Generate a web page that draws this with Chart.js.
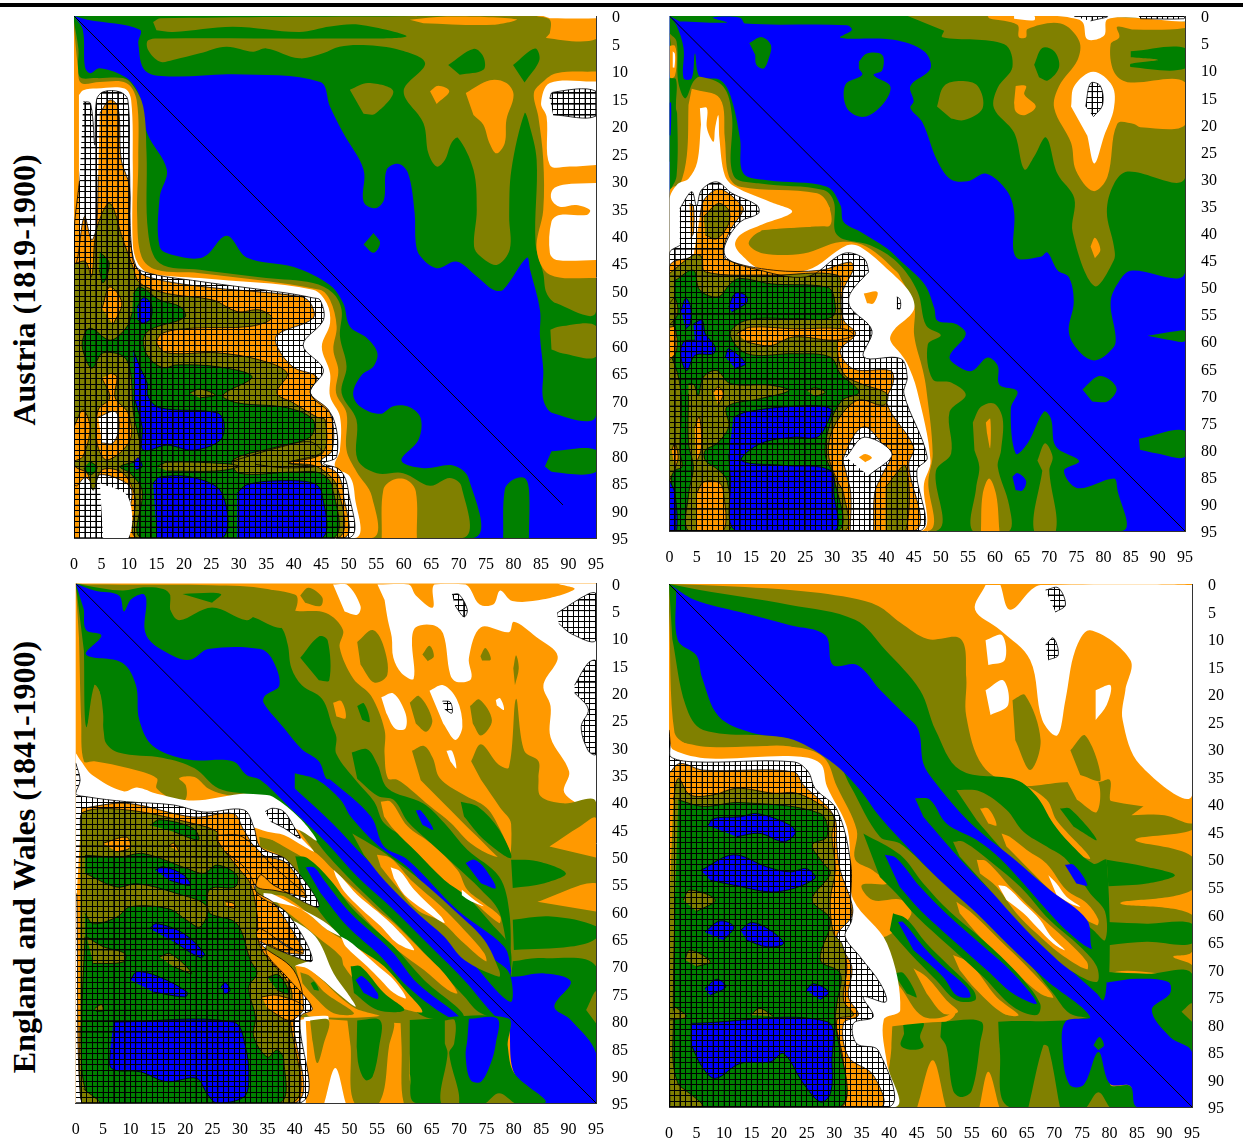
<!DOCTYPE html>
<html>
<head>
<meta charset="utf-8">
<script src="https://cdn.jsdelivr.net/npm/chart.js@4"></script>
<style>
html,body{margin:0;background:#fff;overflow:hidden}
#bar{position:absolute;left:0;top:3px;width:1243px;height:4px;background:#000}
canvas{position:absolute}
.title{position:absolute;font:bold 32px "Liberation Serif";white-space:nowrap;transform:translate(-50%,-50%) rotate(-90deg)}
</style>
</head>
<body>
<div id="bar"></div>
<div class="title" style="left:24px;top:290px">Austria (1819-1900)</div>
<div class="title" style="left:24px;top:857px">England and Wales (1841-1900)</div>
<canvas id="c1"></canvas><canvas id="c2"></canvas><canvas id="c3"></canvas><canvas id="c4"></canvas>
<script>
const AGE_TICKS = [0,5,10,15,20,25,30,35,40,45,50,55,60,65,70,75,80,85,90,95];
const BLUE='#0000ff',GREEN='#008000',OLIVE='#808000',ORANGE='#ff9900',WHITE='#ffffff',HATCH='hatch';

const a1GreenTop = [[0,0],[95,0],[95,72.6],[87.2,72.3],[85.4,69.8],[85.4,64.4],[84.8,58.3],[84.8,53.5],[83,46.2],[82.4,44],[78.1,49.8],[76.3,49.8],[73.3,47.4],[69.6,44.7],[66,45.9],[63,43.7],[62.2,41.3],[62,35.9],[60.8,28.6],[59,26.9],[56.9,28],[56.4,33.5],[54.8,35],[52.7,33.8],[52.7,28],[49,21.3],[46.6,16.5],[44.8,12],[29,10.6],[18,11],[13,10],[11.7,5],[12,2.5],[2.4,0.7]];
const a1GreenLow = [[0,0],[1.6,2.5],[2,9.3],[2.9,10.4],[4.7,9.5],[9.6,11.3],[12,14.7],[13.3,21.3],[16.9,28],[15.6,33],[15.6,42],[18,43.5],[23.5,43.9],[27.8,40],[31.5,44],[40,45.7],[46.6,49],[49,52.3],[50.2,56.5],[53.3,58.6],[55.2,61.3],[54.5,63.8],[52.4,65.3],[50.8,68.6],[52,71],[55.7,72.4],[58.1,71],[61.1,71.2],[63.1,73.2],[62.7,77.1],[59.6,80.9],[63.6,82.3],[69,81.8],[71.8,84.1],[72.7,95],[0,95]];
const a1GreenBlob = [[54.5,39.5],[55.7,41.3],[54.5,43.1],[52.7,41.6]];
const a1GreenBar = [[86.9,79.2],[95,79],[95,83],[87.2,83],[85.7,82]];
const a1GreenBar2 = [[78.1,95],[78.4,86.2],[79.9,84.4],[82,84.1],[82.8,86.2],[82.8,95]];
const a1OliveTop = [[14.4,1.1],[15.7,0.4],[95,0],[95,53.8],[87.8,52.3],[86,50.4],[85.4,46.8],[84,41.3],[84.2,26.2],[82.8,19.5],[82,17.7],[79.6,28],[79.2,36.5],[79.3,42.5],[76.9,45.3],[73.9,43.7],[72.8,41.9],[73.3,35.3],[72.7,28],[69.9,22.2],[68.7,23.1],[67.5,26.2],[66,27.4],[64.5,25],[63.6,19.5],[60,13.7],[63.9,8.6],[59.3,6.2],[52.7,5.3],[48.3,5.6],[45.3,6.8],[41,7.7],[35,5.9],[32.6,6.5],[27.7,5.6],[22.9,6.8],[18,8],[15.6,8.3],[13.5,6.2],[13.5,4.4],[16.8,4.1],[48.3,4.1],[60.5,3.75],[52,1.6],[46.6,1.9],[41,2.9],[28.9,1.95],[18,2.9],[15,2.6]];
const a1GreenP1 = [[68.1,8.9],[72.7,6],[74.5,7.4],[74.5,9.8],[70.2,10.7]];
const a1GreenP2 = [[79.9,8.9],[83.9,5.9],[84.7,8],[82,12.1]];
const a1OliveTri = [[50.2,13.4],[53.6,12.2],[58.1,13.7],[54.8,17.8],[52.7,17.8]];
const a1OrangeO1 = [[64.8,13.7],[66.3,12.7],[68.3,13.7],[66,16]];
const a1OrangeO2 = [[71.3,14],[75.7,11.7],[78.7,12.2],[80,14.4],[78.7,18.9],[78.4,23.1],[76.9,25],[75.6,23.1],[74.5,19.8],[72.7,18]];
const a1OrangeStrip = [[61.1,0.7],[67.8,0.1],[80.5,0.6],[76.3,1.6],[63.6,1.3]];
const a1OrangeCorner = [[84.2,0],[86.6,0.7],[86.6,3.1],[86,4],[95,4.2],[95,0]];
const a1WhiteCorner = [[85.4,0],[95,0],[95,0.4],[86.6,0.4]];
const a1OrangeBlock = [[95,10.1],[87.8,10.4],[85.4,11.9],[83.7,14],[84.5,18.3],[85.4,26.2],[85.4,35.3],[84.2,42.5],[86.6,47.1],[95,47.7]];
const a1WhiteW1 = [[95,11.9],[86.6,12.2],[85,15.9],[86,18.3],[86.6,27.1],[90.2,27.4],[95,27.1]];
const a1WhiteW2 = [[95,30.4],[89,30.7],[87.1,31.6],[86.9,33.4],[88.4,34.7],[91.4,34.4],[93.9,35.3],[93.3,36.2],[88.4,36.2],[86.9,37.4],[86.6,43.1],[87.8,44.4],[95,44.4]];
const a1HatchW1 = [[86.6,15],[87.1,13.9],[95,13.7],[95,18.2],[87.2,18]];
const a1OliveBar = [[86.7,57.1],[88.4,56.5],[95,56.4],[95,62],[89,61.4],[86.9,60.7]];
const a1OliveLow = [[0,1],[0.8,6],[1,11],[4.1,11.3],[8.9,11.3],[10.7,12.6],[12.6,16.5],[13.2,25],[13.5,39.5],[15.6,45],[22.9,46.2],[35,47.7],[43.5,48.6],[47.1,50.4],[48.7,53.5],[48.4,58.3],[49.6,63.8],[48.7,68.6],[51.4,73.5],[51.6,80.7],[55.1,83.2],[59.9,83.2],[64.8,85.5],[68.4,84.1],[70.5,85.6],[70.7,95],[0,95]];
const a1OrangeLow = [[0,2],[0.7,9.2],[1.3,12.2],[4.7,12],[9.5,12.2],[11.4,15.3],[11.7,26.2],[11.5,36.5],[12.3,43.8],[15,46.2],[22.9,46.8],[44.7,49.8],[46.6,51.7],[47.8,56.5],[47.2,60.7],[48.1,64.4],[47.7,68.6],[49.6,72.3],[49.6,79],[51.4,82.9],[54.2,87.4],[54.2,95],[0,95]];
const a1OrangeCol = [[56,95],[56.3,86.2],[58.1,84.4],[60.5,84.4],[62.2,86.5],[62.4,95]];
const a1WhiteLow = [[0.9,14.4],[1.7,13.5],[4.1,13.2],[9.2,13.2],[10.4,15.3],[10.7,27.4],[10.7,41.3],[11.6,45],[13.8,46.8],[22.9,47.7],[43.5,49.8],[46,52.3],[46.6,55.9],[45.1,60.2],[46.6,65],[46.6,69.2],[48.4,72.9],[48.4,79],[47.5,82],[50.2,83.8],[51.1,87.4],[51.1,95],[0.9,95]];
const a1Hatch = [[1.7,15.6],[3,15.9],[3.8,23.5],[4.1,15.3],[5.3,13.8],[8.3,13.8],[9.8,15.3],[10.1,27.4],[10.7,44.4],[12.6,46.5],[22.9,48.3],[38.6,50.4],[43.5,51.3],[44.8,51.7],[45.4,55.3],[41.7,59.9],[45.4,64.4],[43,68.6],[47.1,73],[47.8,80.2],[45.4,81.4],[48.4,82.6],[49.9,86.3],[49.9,95],[0,95],[0,40],[1,30]];
const a1WhiteHole = [[4.7,85],[9.8,87.5],[9.9,95],[5.3,95]];
const a1OrangeMain = [[4.7,17.7],[6.5,15.3],[8,16.5],[8.6,26.2],[10.1,31],[10.1,39.5],[11.3,45.6],[13.2,47.4],[22.9,49.2],[41,51],[43,52.2],[43.5,55],[37,58],[37,60.2],[39.9,63.9],[44.2,65.7],[43,68.6],[46.6,72.2],[47,79],[44.8,81.2],[47.9,83.2],[49,86.8],[49,95],[10.3,95],[10.5,86.3],[8.4,84.4],[4.7,83.5],[3.8,85],[3.4,85],[2,84],[0.5,85.5],[0,85],[0,47],[0.7,43.8],[1.9,36.5],[3.2,40.7],[4.1,38.3],[4.4,29.2]];
const a1OliveMain = [[0.2,45],[2.1,44.7],[3.2,47.4],[4.1,38.9],[6.5,34.1],[8.9,40.7],[10.7,45.6],[12,48.6],[16.9,50.5],[25.3,51.7],[29.7,53.8],[33.8,53.5],[36,55],[32,56.5],[21.7,56.8],[16.2,57.7],[15.1,59.5],[16.9,61.3],[26,61.3],[33.8,62.6],[38.8,65],[36.9,68.6],[39.9,70.4],[44.2,73],[45.7,73.5],[45.3,79.5],[39.3,81.3],[44.2,82],[47.9,85.7],[47.9,95],[11.6,95],[11.1,87.5],[8.9,83.2],[5.1,82.6],[3.5,86.3],[2.4,83.2],[0.2,82],[0,80]];
const a1OrangeP1 = [[5.1,53.2],[6.5,49.3],[8.7,52.2],[7.1,56.2]];
const a1OrangeP2 = [[6.9,65],[7.8,65.7],[7.5,69.5],[9.8,72.2],[10.2,77.2],[6,80.8],[4.2,77.7],[4.4,71.7],[6.5,69.5],[5.1,65.9]];
const a1WhiteP2 = [[4.4,73],[7.5,72],[8.2,74.8],[7.1,77.7],[5.1,77.7]];
const a1OrangeP3 = [[0,74.8],[1.6,71.7],[2.9,74.8],[1.6,80.2],[0,81]];
const a1GreenSpot = [[4.7,42.9],[6.4,45],[5.3,48.6],[4.6,46.2]];
const a1GreenMain = [[10.8,50.5],[12,49.3],[15.6,51.7],[19.3,52.9],[20.2,54.8],[13.8,57.1],[12.6,59],[13.5,62],[16.2,64],[18.7,63.5],[26.6,63.9],[32.4,65.7],[27.1,69],[29.7,70.4],[38.8,71.3],[43.5,73.5],[43,76.6],[37,78.4],[28.9,80.8],[30,83.2],[39.9,83],[44.8,83.2],[47,85.7],[47,95],[12.4,95],[12.4,86.3],[10.2,83.2],[8.4,82],[12,80.4],[10.8,72.2],[9.6,62.6],[5.3,61.3],[3.3,64.1],[2,62],[1.5,59.3],[2.9,56.8],[6.6,59],[9.6,56.6],[10.6,54]];
const a1OliveS1 = [[15.1,82],[17,81.2],[28,81.5],[30,82],[26,82.8],[17,82.8]];
const a1OliveS2 = [[28.9,81],[37,78.6],[43,77.5],[45,79.5],[39,81.3],[43.8,82],[38,82.2],[33,81.6]];
const a1OliveSpot = [[21.1,68.6],[22.9,67.9],[25.7,69],[22.9,69.5]];
const a1GreenSpot2 = [[2.9,81],[4.2,82.2],[3,83.5],[1.8,82.3]];
const a1BlueB1 = [[11.5,53],[12.6,51.3],[14,52.3],[14,55],[12.6,55.9],[11.6,55.3]];
const a1BlueB2 = [[10.8,60.8],[12,63.9],[13.3,66.8],[13.5,69.3],[15.6,71.3],[26,72.2],[27.3,74],[26.6,77.2],[21.7,79],[16.9,78.1],[12.6,79],[12.4,74.8],[11.1,69.9]];
const a1BlueB3 = [[10.8,81.3],[11.7,80.4],[12.4,82],[11.3,82.6]];
const a1BlueB4 = [[14.4,85],[15.6,83.9],[21.7,84],[26.9,86.8],[27,95],[15.1,95]];
const a1BlueB5 = [[29.7,86.8],[31.5,85.3],[36.9,84.6],[43.5,85],[45.1,86.8],[45.1,95],[29.7,95]];

// Austria, right panel
const a2Green = [[0,0],[95,0],[95,47.3],[85,47],[82.9,48.9],[81.3,52.7],[82.2,59],[81.9,61],[78.6,63.5],[75.8,62.2],[73.6,58.4],[74.5,52.7],[73.6,48.2],[71.5,46.9],[69.6,43.6],[68.4,44.4],[63.8,44.4],[63.5,36.1],[62.2,32.3],[58.4,29.1],[54.9,30.5],[51.8,30.1],[49.3,26.6],[46.6,19.6],[44.4,17],[45,15.7],[44.4,12.9],[48.1,9.7],[46.9,6.5],[41.3,4.4],[31.5,4],[33.6,2.6],[32.7,1.7],[14,1.4],[13,0.3],[8,0.3],[10.6,1.2],[1.9,1]];
const a2GreenB1 = [[14.7,5],[17,3.9],[18.7,5.4],[18.2,8.1],[17.3,9.7],[16,9],[15.8,7.2]];
const a2GreenB2 = [[34.9,8.4],[36.4,6.9],[39.2,7.2],[39.2,10],[37.6,10.9],[40.7,13],[39.2,16.4],[35.8,18.6],[32.7,17],[32.4,12.7],[35.5,10.9],[34.9,9.7]];
const a2GreenB3 = [[76.1,68.9],[78.9,66.5],[81,67],[82.4,68.9],[80.7,71.1],[77.9,71.1]];
const a2GreenBar = [[86.5,78],[95,76.5],[95,81.3],[89.9,80.7],[86.7,80]];
const a2GreenSliver = [[88.1,59],[93.6,58.1],[95,58.1],[95,60],[91.8,59.7]];
const a2GreenLow = [[0,0],[1.3,1.7],[2.6,6],[2.6,11.5],[4.1,11.5],[4.7,6.9],[5.6,11.2],[9.3,11.8],[11.2,14.6],[13,22.6],[13.6,29],[18,30.3],[29,31.5],[31.5,34.9],[32.1,38],[35.2,39.8],[40.1,42.9],[42.7,45.3],[47,49.5],[48.8,53.9],[49.4,56.2],[52.8,56.8],[54.6,58.7],[51.6,62.9],[54,65.1],[55.9,65.4],[58.6,63],[60.5,64.5],[60.8,68],[64.1,69.2],[62.9,72.4],[63.8,80.7],[66,78.8],[69,73],[70.3,74.3],[71.2,79.4],[75.5,82.1],[72.7,83.9],[75.2,87.1],[81.9,85.3],[82.5,87.1],[83.3,95],[0,95]];
const a2BlueSpot = [[63.2,85],[64.1,84.3],[65.7,85.7],[65.1,87.5],[63.8,87.5]];
const a2OliveTop = [[43.9,0],[95,0],[95,29.9],[84.4,28.7],[81.9,31],[80.6,36.1],[81.9,42.5],[81.9,45],[78.3,49.8],[74.3,39.9],[74.6,33.6],[71.5,29.1],[69.4,22.4],[67.2,25.9],[65.4,28.3],[63.5,21.5],[59.8,17],[60.5,13.2],[63.2,9.4],[61.7,5.2],[50.3,3.9],[50.6,2.7]];
const a2GreenHole = [[67.2,9],[68.7,5.9],[70.9,6.5],[71.8,9.4],[69.7,11.9],[68.1,11.3]];
const a2OliveIsland = [[49.3,16.7],[50.6,12.9],[53.7,12],[56.8,12.9],[57.7,17],[54.3,19.2],[51.9,18.9]];
const a2GreenStrips = [[85,6.5],[95,5.9],[95,9.7],[85,9.4],[85,8.8],[90,8.1],[85,7.6]];
const a2OrangeTop = [[48.2,0],[58.6,0],[58.9,0.4],[64.1,1.6],[64.4,3.9],[65.7,3.9],[66,2.4],[72.1,1.4],[75.5,4.6],[75.2,8.1],[71.8,12.9],[70.9,17],[74,23.4],[74.9,28.5],[78.1,32.3],[80.7,29.7],[82.5,19.9],[85.6,19.9],[86.8,20.5],[95,20.1],[95,12.2],[84.4,12.2],[81.9,10.3],[81.3,5.2],[82.9,3.9],[82.5,2],[85.6,2.5],[95,2.2],[95,1.1],[86.8,0.4],[71.5,0]];
const a2OrangeO1 = [[63.8,12.9],[65.7,12.9],[65.4,14.5],[67.5,16.7],[65.4,18.3],[63.8,17.6],[63.5,16]];
const a2WhiteTop1 = [[63.5,0],[67.2,0],[67.2,0.8],[63.5,0.5]];
const a2WhiteTop2 = [[71.5,0],[95,0],[95,1],[86.8,0.4],[80.7,0.6],[80.1,3.6],[77,4.3],[76.1,1.1],[73.3,0.2]];
const a2WhiteBig = [[74,16.7],[74.6,12.9],[78.1,10.3],[81.6,12.9],[81.9,17],[80.1,22.1],[78.3,27.2],[77,22.1]];
const a2HatchSmall = [[76.7,16.7],[77.6,12.4],[79.4,12.9],[79.8,16.4],[78.1,18.6]];
const a2HatchTop1 = [[74.6,0.1],[80.7,0.1],[77.6,0.9]];
const a2HatchTop2 = [[86.5,0],[94.8,0],[94.8,0.5],[86.8,0.5]];
const a2OrangeDiamond = [[77.6,42.5],[78.4,40.9],[79.4,43.1],[78.4,44.7]];
const a2OliveLow = [[0,3.2],[1.3,4.7],[1.6,12.1],[2.9,15.2],[4.4,12.1],[5.6,11.2],[9.9,13],[11.5,18.3],[11.8,29.4],[16.7,30.9],[28.4,32.1],[30.3,34.3],[30.9,40.4],[37,42.3],[41.9,45.4],[45.7,50.8],[47.3,57.1],[50,58.9],[47.6,60.6],[48.5,67],[51.9,67.6],[54.6,69.9],[51.6,73.1],[51.9,80.7],[49.1,83.9],[49.1,95],[0,95],[0,33],[1.3,29.5],[1.4,18],[1,16.5],[0.5,12],[0.2,5]];
const a2OrangeLeft = [[0,5.5],[1,5.5],[1.3,8],[1,11],[0.2,11.5],[0,10]];
const a2WhiteLeft = [[0.6,6.5],[1,7],[0.9,9.5],[0.6,9.5]];
const a2GreenLeft = [[0,11.5],[1.2,11.7],[1.2,16],[0.8,25],[0,27]];
const a2BlueLeft = [[0,16],[0.3,16],[0.2,22],[0,22]];
const a2OrangeLow = [[4.1,13.4],[9.3,15.2],[10.2,22.6],[10.9,29.4],[13,31.5],[27.2,32.7],[29.3,34.9],[29.6,38.6],[25.9,38.9],[16.7,39.8],[14.6,42],[17.3,43.8],[24.7,43.8],[31.5,41.7],[36.4,42.6],[41.9,47.2],[42.7,48.5],[45.1,53.3],[45.1,59],[46.7,65.4],[47.3,68.6],[48.5,80.7],[47.7,85.8],[47.6,95],[0,95],[0,32.4],[0.7,31.5],[1.9,31.2],[3.2,25.7],[3.5,16.4]];
const a2OliveTongue = [[17,39.5],[26,38.9],[29.6,39],[30.5,40.7],[24.7,43.5],[17.3,43.5],[14.6,42]];
const a2WhiteLow = [[5.6,17],[6.9,17],[6.9,20.7],[8.1,23.2],[8.4,20.7],[9,18.3],[9.2,22.6],[10.2,29.4],[12.1,31.5],[18.6,34.3],[22.6,36.1],[16.7,38.6],[13,40.4],[12.1,42.3],[13.6,44.4],[16.7,46.6],[25.3,46.9],[32.7,42.3],[35.2,42.6],[40.7,47.2],[44.4,51.2],[45,54.3],[41.3,58],[40.7,59.8],[42.6,62.3],[43.8,64.1],[45.6,69],[48.1,82],[46.9,86.3],[46.3,95],[0,95],[0,34],[1.5,31],[3.5,30],[5.1,27],[5.8,20]];
const a2OrangeDiam = [[27.5,35.6],[28.6,34.6],[29.6,35.6],[28.6,36.4]];
const a2Hatch = [[1.9,35.5],[4.1,32.4],[5,35],[5.9,32.1],[8.7,30.6],[11.5,32.7],[16.1,34.9],[16.4,36.4],[13,38],[10.2,42.3],[10.6,44.7],[15.5,46.6],[25.3,48.1],[32.1,43.8],[35.8,44.7],[36.7,47.2],[36.4,47.5],[33.3,51.2],[33.3,53.7],[37.3,58],[35.8,62.9],[42.6,63.2],[43.8,66.6],[43.2,69.7],[47.5,81.4],[45.6,83.8],[46,95],[0,95],[0,43.8],[1.9,42.3]];
const a2OrangeMain = [[5.6,37],[6.3,34],[8.4,32.1],[9.9,32.1],[13,34.6],[13.6,35.8],[11.2,39.5],[9.9,43.2],[10.6,45],[19.2,46.9],[27.8,46.9],[33.3,45.4],[33.9,46.6],[31.8,51.2],[32.1,56.1],[34.3,58.6],[31.5,61.7],[33.9,65.1],[40.7,65.4],[41.3,67.2],[40.1,71.5],[45,79.5],[44.1,82.6],[45,95],[0,95],[0,46.3],[4.4,44.4]];
const a2WhiteHatched = [[33.3,95],[33.4,88],[32.5,84],[32.1,81.4],[35.7,75.8],[39.8,79.5],[41,80.8],[39,85],[37.8,88],[37.6,95]];
const a2OliveBlob = [[6.3,37],[9,34.6],[10.9,35.8],[10.9,38.3],[8.7,41.1],[6.6,40.4]];
const a2OrangeSpire = [[3.7,34.6],[4.4,35],[4.4,40],[3.9,41]];
const a2OliveMain = [[0,47.5],[4.4,44.1],[5.9,44.4],[6.6,47.2],[18.6,47.8],[30.9,47.8],[31.5,51.2],[31.5,58],[30.9,61],[32.1,66],[35.2,67.8],[40.1,69.7],[39.5,71.8],[34.6,70.9],[30.3,75.8],[29.3,80.8],[30.9,85.7],[32.1,88.1],[32.1,95],[0,95]];
const a2OliveCol = [[39.8,86.9],[43.5,83],[43.5,95],[39.8,95]];
const a2OrangeBand = [[12.4,58.6],[14.9,57.4],[22.9,57.7],[32.1,57.7],[33.9,58.9],[30.3,59.8],[22.9,59.2],[18.6,60.8],[14.3,60.2]];
const a2GreenMain = [[1,48.8],[4.4,46.9],[5.6,50.6],[9,51.8],[11.2,49.4],[13,48.4],[18.6,49.4],[29,50],[30.3,51.8],[30,55.5],[22.9,55.8],[14.3,56.1],[11.2,58.6],[14.3,62.3],[22.9,62.3],[29.6,62.9],[31.5,66],[34.9,69.4],[31.8,70.9],[29.6,75.2],[28.7,80.8],[30.3,85.1],[30.9,95],[0.7,95],[0.7,55]];
const a2OliveLeft = [[0,62],[1.5,66],[2.2,71],[1.9,80.1],[2.3,83.2],[1,83.8],[0,85.7]];
const a2OliveTail = [[3.5,67.8],[4.5,68],[5.3,70],[6.25,66.6],[8.7,65.4],[11.2,67.8],[18.6,68.1],[22,69.1],[16.7,70.6],[10.6,72.1],[10.9,75.8],[8.7,78.9],[6.6,80.1],[6.6,82],[8.7,83.5],[10.6,85.7],[10.9,95],[3.5,95],[3.5,88.3],[4.4,83.2],[3.5,78.9],[3.5,69.7]];
const a2OliveSide = [[0,53],[1,52],[1.5,55],[0,57]];
const a2OliveSpot = [[25.3,69.1],[26.9,68.6],[28.7,69.4],[26.9,70.2]];
const a2OrangeS1 = [[8.1,69.4],[9,68.4],[9.9,69.7],[9,71.8]];
const a2OrangeS2 = [[4.65,75.8],[5.5,74],[5.9,79.5],[4.9,82.6]];
const a2OrangeS3 = [[0.4,80.1],[1,78.9],[1.6,81.4],[1,83.5]];
const a2OrangeS4 = [[5,88.1],[6.25,86],[9,86],[9.9,87.5],[9.9,95],[5,95]];
const a2OrangeS5 = [[0,57.4],[1,57.4],[1.3,61.7],[0,63.5]];
const a2BlueB1 = [[2.1,54.3],[3,52.1],[3.9,53.7],[3.8,56.8],[3,57.7]];
const a2BlueB2 = [[4.4,56.8],[6,56.1],[6.6,58.6],[8.4,61],[8.1,62.3],[4.7,62.6],[3.2,65.4],[2.1,62.9],[2.6,60.1],[4.7,59.8]];
const a2BlueB3 = [[10.9,53.7],[12.1,51.2],[14,51.5],[14.3,52.8],[11.5,54.6]];
const a2BlueB4 = [[10.3,62.9],[10.9,61.4],[14,64.1],[12.1,65]];
const a2BlueB5 = [[11.8,74],[14.3,73],[22.9,72],[29.6,72.4],[29,75.2],[27.2,77.7],[22.9,77.7],[16.7,78.9],[13.3,82],[21,82.9],[29.6,83.8],[30.3,88.1],[30.3,95],[12.3,95],[11.2,85],[10.9,80.8]];
const a2BlueB6 = [[0,85.7],[1,88.1],[1.3,95],[0,95]];
const a2WhiteDiamond = [[32.5,81.4],[35.9,77.7],[41,80.8],[36.7,84.8]];
const a2OrangeCore = [[34.9,81.4],[36.1,80.8],[37.3,81.5],[36.1,82.3]];
const a2OrangeGap = [[35.8,51.2],[38.3,50.9],[37.6,53],[36.4,53]];
const a2HatchTiny = [[41.9,51.8],[42.5,52.3],[42.5,54],[41.9,54]];
const a2OliveTower = [[55.9,75],[57.4,72.1],[59.8,71.5],[61.4,74.3],[61.1,80.1],[60.5,83.2],[62.6,90.3],[62.6,95],[55.9,95],[56.5,87.1],[57.1,83.2],[56.2,80.1]];
const a2OrangeT1 = [[58.3,75],[59.1,74.3],[59.1,79.7],[58.5,76.9]];
const a2OrangeT2 = [[57.4,95],[57.7,88.3],[58.9,85.3],[60.2,88.3],[60.8,95]];
const a2OliveSpike = [[67.8,82],[69.2,78.8],[70.6,81.3],[70,83.9],[71.2,95],[67.2,95],[68.7,83.9]];

// England and Wales, left panel
const e1WhiteBig = [[55.1,0.2],[60.8,0.2],[62.1,2.2],[65.2,4.4],[65.5,0.2],[71.2,0.2],[73.7,3.8],[76.3,3.8],[77.5,1.3],[79.7,3.2],[85.4,2.9],[91.1,1],[88,0],[95,0],[95,42],[93.6,41.3],[89.2,38.2],[90.1,34.4],[86.7,28.1],[86.7,22.4],[85.4,18.6],[88,13.3],[84.1,9.8],[80,7],[79.1,8.9],[74,8],[71.8,13.6],[72.2,17.4],[69.6,18],[68.4,16.7],[67.1,9.2],[65.2,7.6],[62.1,8],[61.4,10.4],[61.7,17.4],[59.5,16.4],[58,13.6],[57.7,9.8],[57,6.7],[56.4,3]];
const e1WhiteS1 = [[47,0.2],[49.5,0.2],[52,4.1],[51.4,5.7],[49.1,5.1]];
const e1WhiteS2 = [[55.8,20.8],[58,20.1],[60.2,23.7],[60.2,26.5],[58.3,26.5],[56.7,23.7]];
const e1WhiteS3 = [[64.6,19.6],[67.1,18.6],[69.6,21.2],[70.6,26.2],[69.3,28.6],[67.1,25.6]];
const e1WhiteS4 = [[67.7,30.6],[68.7,30.6],[69.5,33.8],[68.4,32.5]];
const e1WhiteS5 = [[76.7,21.3],[77.5,21],[78.2,23.1],[76.9,22.3]];
const e1OliveA = [[0,0],[3.4,0.2],[24.9,0.3],[35,1],[38.7,2.9],[39.4,4.8],[45.7,5.4],[48.8,8.5],[48.2,11.7],[50.7,17.4],[53.9,20.5],[56.4,26.8],[56.4,31.2],[57,35.6],[58.7,35.9],[61.2,37.7],[64.8,40.8],[68.5,43.8],[72.1,47.5],[76.4,49.9],[79.5,50.5],[79.5,79.3],[63,79.3],[58,72],[50,62],[47,55],[43.5,49],[41,45.5],[38.6,42],[33.7,40],[31.9,39.5],[26.8,38.5],[24.2,37.5],[21.7,35.4],[18.9,35.6],[20.1,36.9],[20.1,39.4],[18.6,39.8],[14.8,37.5],[14.8,35.6],[9.7,33.8],[3.4,32.5],[1.5,32.5],[1,25],[0.6,10]];
const e1OliveA2 = [[33.5,46.3],[38,47.5],[43,50],[50,58],[60,70],[70,79.3],[41,79.3],[43.2,77.7],[38.6,72],[35,68],[35,66.1],[38.6,67.7],[43.2,68.9],[38.6,60.3],[33.1,56.7],[33.7,53.3],[36.2,55.2],[44.4,59.1],[38.6,50.6],[33.7,48.2]];
const e1OliveO1 = [[41,2.2],[42.5,0.8],[45,2.5],[44.7,4.1],[41.9,3.5]];
const e1OliveO2 = [[51.4,10.7],[54.2,8.5],[56.1,11.1],[56.9,16.7],[54.5,18.1],[52,14.8]];
const e1OliveO3 = [[63.3,13],[64.6,11.4],[65.4,13.3],[64.3,14.2]];
const e1OliveO4 = [[73.9,13.3],[74.8,11.8],[75.8,13.9],[74.2,14.1]];
const e1OliveO5 = [[79.9,15.5],[80.4,13.1],[80.9,15.5],[80.2,18.6]];
const e1OliveO6 = [[61,21.8],[62.7,20.6],[65.1,24.9],[64,27.1],[62.1,25.6]];
const e1OliveO7 = [[72,22.4],[73.7,21.2],[76,25],[74,27.8],[72.5,25.6]];
const e1GreenO2 = [[41,13.6],[44.4,9.7],[46,10.4],[46.3,17.7],[44.4,17.7]];
const e1GreenO3 = [[51.4,22.4],[52.6,21.9],[53.7,25.3],[52.3,24.9]];
const e1OrangeO8 = [[47,21.8],[48.5,21.5],[49.3,24.6],[47.6,24.3]];
const e1OliveT1 = [[61.4,30.6],[63.6,29.7],[65.2,31.9],[66.5,35.6],[70.6,38.5],[75,41],[77.5,45],[79.5,50],[79.5,52],[73,46],[68,41],[63,36]];
const e1OliveR = [[72.2,32.5],[74,29.4],[77.2,33.1],[79.1,33.6],[80.4,21.1],[81.9,30.6],[84.5,32.5],[84.5,35.6],[84.9,38.9],[89,40.2],[95,40],[95,71],[79.5,71],[79.5,44],[77.5,41],[74,35.9]];
const e1OrangeW1 = [[86.5,48.1],[92,44.5],[95,42.9],[95,50.1]];
const e1OrangeW2 = [[84.3,58.2],[95,54.8],[95,60]];
const e1GreenBar1 = [[79.5,50.5],[84.3,50.8],[89.5,53],[85.6,54.8],[79.8,55.7]];
const e1GreenBar2 = [[79.8,61.5],[86.8,60.9],[95,62.7],[95,64.9],[90.4,66.4],[80,67]];
const e1GreenBar3 = [[79.8,69.1],[84.9,68.5],[95,70],[95,85.9],[79.5,79.8],[79.5,71.9]];
const e1OliveRs = [[93.2,78],[95,74.6],[95,80.4]];
const e1GreenIsland = [[70.3,39.9],[73.4,40.8],[77.3,45],[79.5,50.2],[74.6,46.9],[70.9,42.6]];
const e1GreenA = [[0,0],[1.5,0.3],[8.5,1.3],[12.3,0.7],[16,1],[17.3,2.2],[17.3,4.8],[18.9,6.7],[24.9,4.4],[31.2,6.7],[33.7,5.4],[37.5,8],[38.7,11.1],[39.4,15.5],[41.3,18.6],[45,21.1],[46.9,26.2],[47.6,28.1],[47.6,31.2],[51.4,36.3],[54.5,39.9],[56.3,43.8],[60.6,46.9],[64.8,51.1],[70.9,56.6],[75.8,62.1],[79.2,66.4],[79.5,71.9],[79.4,79.5],[74,78.6],[70.9,75.5],[65.4,69.4],[58.7,62.4],[51.4,55.4],[45.9,49.6],[42.9,45.7],[39.8,42.3],[37.5,41.3],[32.4,38.8],[26.1,37.5],[21.7,33.8],[16,31.9],[7.8,30.9],[5.3,28.7],[5,23.7],[4.4,19.9],[3.4,18.6],[3.4,19.9],[1.9,26.2],[1.5,12.3]];
const e1OliveInner = [[17.3,2.2],[19,1.3],[40,2],[38,8],[32,6],[25,4],[19,6.5],[17.3,4.8]];
const e1GreenStrip = [[19.5,1.9],[26.5,1.9],[24.9,3.5]];
const e1GreenBand2 = [[50.4,30.9],[53.2,30.3],[55.1,33.1],[57,37.5],[63.4,40.2],[67.3,43.8],[71.5,48.7],[77.3,53.6],[79.2,60.3],[79.2,68.8],[77.3,60],[74,56],[69.1,51.4],[64.2,46.9],[60.6,43.5],[58.1,39.6],[55.1,38.8],[51.4,35.7]];
const e1OliveFinger = [[2,27],[3.4,18.6],[4.4,19.9],[5,26],[5,30],[2.5,30]];
const e1BlueS1 = [[62.1,41.5],[63,41.5],[65.3,45],[63.3,44.1]];
const e1BlueS2 = [[71.2,51.1],[72.8,50.5],[74.6,52],[76.7,55.7],[74,54.8]];
const e1OrangeS1 = [[55.7,39.9],[57.5,39.9],[60.6,44.4],[64.8,47.5],[69.7,52.4],[71.5,56],[74.6,58.5],[77.5,60.9],[77.3,62.1],[71.5,57.2],[67.3,54.2],[62.4,49.3],[58.1,45],[56.3,42.6]];
const e1WhiteSliver = [[70.5,56],[73,58],[74.5,59],[72,58],[70.5,57]];
const e1Blue = [[0,0],[3.4,1.3],[7.9,2.2],[8.8,5.1],[10.1,2.9],[12.3,1.9],[12.9,2.9],[12.9,9.5],[17.9,13.3],[21.1,13.9],[24.2,12],[33.7,12],[35.9,13.9],[37.2,18.6],[34.6,20.5],[34.3,21.8],[38.1,26.5],[41.3,30.3],[44.4,32.5],[45.7,35.6],[46.5,35.9],[53.9,42.6],[56.3,48.1],[60.6,50.5],[69.7,59.7],[78.2,66.4],[79.5,70.7],[79.5,71.9],[85.6,71.3],[90.4,72.8],[87.4,77.4],[90.4,79.8],[95,85.9],[95,95],[85.6,95],[80.1,89.6],[78.9,79.8],[77.3,79.8],[70.9,72.5],[64.8,66.4],[58.1,59.7],[51.4,53.6],[45.9,47.5],[38.6,40.5],[33.7,35.9],[31.2,35],[28.7,32.5],[20.5,32.2],[14.1,29.7],[11.6,24.9],[11,18.6],[8.5,14.5],[1.9,13],[4.7,9.5],[1.9,8.5],[1.5,4.8]];
const e1GreenMid = [[40,34.7],[44.1,35.9],[48.4,39.6],[50.2,42.6],[55.1,47.8],[61.2,52.4],[66,58.5],[70.9,62.7],[75.8,68.2],[79.2,71.3],[79.3,76.5],[70.9,67.6],[65.4,62.1],[58.7,55.4],[52.9,50.2],[46.8,43.8],[40,37.5]];
const e1OliveMid = [[50.5,45.7],[55.1,48.4],[58.1,50.5],[63.6,54.8],[69.7,60.3],[74.6,65.2],[77.3,70.7],[77.3,71.9],[70.9,68.8],[67.3,64.6],[62.4,60.3],[56.3,54.2],[52.6,49.6]];
const e1OrangeMid = [[55,49.6],[57.5,50.2],[61.2,54.2],[66.7,59],[70.9,63.3],[74.6,67.6],[74.9,69.1],[70.9,65.8],[66.7,61.8],[62.4,59.7],[58.1,54.8],[55.7,51.8]];
const e1WhiteMid = [[57.5,51.9],[59.3,52.7],[61.8,56],[66.7,60.9],[67.3,62.1],[63.6,59.7],[60,56.9],[58.1,53.9]];
const e1OrangeL1 = [[34.3,45],[37.4,46],[43.5,49],[47.1,52.4],[51.4,56.3],[55.1,59.7],[58.1,62.1],[63.6,67.6],[67.3,71.3],[69.7,74.9],[67.9,74.3],[63.6,70.7],[58.7,67],[54.5,63],[51.4,59.7],[45.9,54.2],[42.9,51.1],[38,48.1],[35.3,46.6]];
const e1WhiteL1 = [[47.1,52.4],[48.7,53.9],[51.4,56.9],[55.1,60],[58.7,63.3],[61.8,67],[58.7,65.8],[55.7,62.7],[52,59.4],[49,56.3],[47.5,53.6]];
const e1WhiteCap = [[31.9,40.8],[33.7,40.5],[35.6,41.1],[38.6,42.6],[41,46.3],[43.5,49],[41.7,48.1],[38,46],[35,45.4],[31.9,44.4]];
const e1HatchCap = [[34.6,41.7],[35.9,41.1],[38,41.7],[39.8,44.4],[41,46.6],[38,44.7],[35.6,43.5]];
const e1GreenL2 = [[40.1,49.9],[42.3,50.2],[46.5,54.2],[50.8,59.7],[58.1,66.4],[63.6,72.5],[70.9,79.2],[63.6,79.2],[58.7,74.3],[53.2,68.8],[48.4,64.6],[43.5,58.5],[41,53.6]];
const e1BlueR1 = [[42,51.9],[43.5,51.9],[45.3,54.2],[50.2,60.3],[57.5,67],[62.4,73.1],[70,79.2],[67.9,79.2],[60.6,73.7],[55.7,68.2],[49.6,62.7],[44.7,56.6]];
const e1OrangeL2 = [[35.9,56.9],[38,57.2],[41.7,59.7],[45.9,63.3],[52,67],[56.3,70],[60.6,74.9],[63.3,78.3],[60.6,78],[55.1,76.1],[52,73.7],[49,70],[48.4,68.2],[44.1,64.6],[40.4,61.5],[37.4,59.1]];
const e1WhiteL2 = [[34.3,56.6],[36.2,56.9],[42.3,60.3],[45.9,63.3],[49.6,65.2],[53.2,68.2],[55.7,70.4],[58.1,72.5],[60.3,75.8],[58.1,74.9],[55.7,72.5],[53.2,70],[49.3,66.4],[48.4,64.6],[46.5,62.7],[43.8,60.9],[40.1,59.1],[37.4,58.5],[34.3,57.8]];
const e1WhiteL3 = [[37,60.8],[40.4,62],[44.1,65],[47.1,71.3],[49.6,74.9],[51.1,77.4],[47.8,74.9],[44.7,72.2],[42.3,70.7],[40.1,70],[43,68.5],[38.6,62.5]];
const e1OrangeL3 = [[40.1,69.9],[42.3,70.4],[45,72.5],[48.1,75.5],[51.1,77.7],[55.4,79.1],[42.9,79.2],[41.7,78],[41.4,74.9]];
const e1OliveBlob = [[41,71.1],[42.9,71.9],[45.6,74.9],[50.8,78.6],[47.1,78.6],[43.5,75.5],[41.4,73.1]];
const e1GreenBlob = [[42.9,73.1],[43.5,72.8],[44.4,74.4],[43.5,74.3]];
const e1WhiteNotch = [[41.7,79.3],[46,79.1],[46,80],[41.7,80]];
const e1GreenL3 = [[50.2,70],[52,70],[56.3,74.9],[60,78],[55.1,78],[50.8,74.9]];
const e1BlueR2 = [[51.1,72.5],[52.3,71.8],[55.1,74.9],[55.1,76],[52.6,74.9]];
const e1WhiteStrip = [[41,79.8],[42,79.8],[42,95],[41,95]];
const e1OliveV1 = [[42.8,79.9],[46.2,79.9],[45.3,84.1],[44.1,87.7],[43.2,83.5]];
const e1WhiteV = [[45.4,95],[47.4,88.6],[49.3,95]];
const e1OliveV2 = [[49.6,79.8],[57.8,79.8],[57.2,84.7],[55.4,95],[50.9,95],[50.2,84.7]];
const e1GreenV = [[51.4,79.9],[55.6,79.9],[55.4,84.7],[54.2,90.2],[52.9,90.8],[51.7,88.3],[51.3,84.7]];
const e1OliveV3 = [[59.3,79.8],[61,79.8],[61,90.8],[62.1,95],[59.9,95],[59.5,84.7]];
const e1GreenBig = [[61,79.8],[78.9,79.5],[78.9,84.7],[80.1,89.6],[85.6,95],[62.1,95],[61,89.6]];
const e1OliveV4 = [[67.4,79.9],[69.2,79.9],[69.1,84.1],[68.2,85.9],[70,95],[66.7,95],[67.9,85.9],[67.4,84.1]];
const e1BlueV = [[71.8,79.6],[77,79.6],[76.7,84.1],[75.8,87.7],[74,91.1],[72.1,90.8],[71.2,86.5],[71.5,83.5]];
const e1OliveV5 = [[74.9,95],[77.3,93.2],[80.1,95]];
const e1HatchR1 = [[87.9,5.4],[93.6,1.9],[95,1.9],[95,10.4],[90.5,9.2],[88.2,7.3]];
const e1HatchR2 = [[91.1,18.6],[93.6,14.5],[95,14.2],[95,31.2],[93.6,30.6],[92.3,26.2],[93.6,23],[91.1,20]];
const e1HatchR3 = [[68.7,2],[70,2],[71.5,4.8],[70.9,6.1],[69.3,4.1]];
const e1HatchR4 = [[67,21.5],[68.4,21.7],[68.7,23.7],[67.4,23]];
const e1WhiteBand = [[0,31],[1,32.5],[3,35],[8.7,38],[11.2,37.3],[15,38.5],[21.5,39.7],[30,38.5],[33.7,38.6],[36,39],[41,43],[44,47],[40.5,45],[35,44.5],[30,44],[0,42]];
const e1Hatch = [[0,32.8],[0.8,36],[0,38.4],[2,39],[9.3,39.9],[17.9,40.5],[23.4,41.8],[30.7,41.4],[32.5,44.5],[33.7,48.2],[38.6,50.6],[44.4,59.1],[36.2,55.2],[33.7,53.3],[33.1,56.7],[38.6,60.3],[43.2,68.9],[38.6,67.7],[35,66.1],[35,68],[38.6,72],[43.2,77.7],[41,79.3],[41,95],[0,95]];
const e1OrangeMain = [[1.1,41.1],[9.3,40.2],[21.5,42.7],[28.8,42.1],[30.7,45.1],[33.7,49.4],[38.6,51.2],[42,57.3],[37,54],[33.1,53],[32.8,56.1],[36.2,58.5],[41.6,67],[41.3,67.7],[35,64.3],[33.7,65.8],[39.8,70.7],[41.6,77.4],[39.8,79.3],[40.1,95],[1.1,95],[0.2,56.7]];
const e1OliveMain = [[0.8,45.1],[1.4,41.8],[9.3,41.4],[21.5,43.9],[25.8,45.4],[25.8,46.9],[30,52.4],[31.9,54.9],[33.1,60.3],[33.7,66.4],[39.2,73.8],[39.2,79.3],[39.5,95],[1.7,95],[0.8,92],[0.8,81]];
const e1OrangeB1 = [[25.8,46],[30.4,46.3],[36.2,51.8],[42.2,57.3],[39.2,56.7],[36.2,56.1],[33.1,55.5],[31.3,52.4],[27,48.8]];
const e1OrangeB2 = [[5,47.5],[9.3,46.4],[9.9,48.3],[7.5,49.1]];
const e1OrangeB3 = [[17,48],[17.9,47.5],[18.8,48.9]];
const e1OrangeB4 = [[4.3,57.2],[8.4,58.2],[7.5,59],[5.1,58.5]];
const e1OrangeB5 = [[16.1,57.9],[19.4,58.8],[19.7,59.9],[16.6,59]];
const e1OrangeB6 = [[27.3,58.2],[28.8,58.5],[29.1,59.4],[27.6,59]];
const e1OrangeB7 = [[32.8,64],[33.7,63.1],[38.6,66.4],[41.6,67.7],[38,67.4],[33.7,65.5]];
const e1OrangeB8 = [[34,75.6],[36.8,75.3],[41.6,77.4],[39.2,79.9],[35,77.7]];
const e1GreenMain = [[1.7,49.7],[8.1,50],[12.4,49.4],[20.3,52.1],[23.4,53],[25.8,51.5],[29.4,53.3],[29.1,55.5],[24.6,55.8],[24,59],[24.6,60.4],[29.4,62.2],[31.9,68.9],[33.1,71.3],[31.6,73.8],[32.8,79.3],[32.5,82.9],[35,86.6],[36.8,85.3],[38,87.2],[37.1,95],[4.8,95],[1.7,92.4],[1.1,81],[1.7,64.6]];
const e1OliveL1 = [[1.7,53],[7.5,55.5],[11.2,54.9],[18.5,56.7],[24,59.1],[22.7,62.8],[20.3,61.6],[17,59.5],[10,59.1],[7.5,61],[3.2,62.2],[1.7,60.3]];
const e1OliveL2 = [[2,64.6],[5,66.4],[9,67.7],[8.7,69.2],[3.2,69.5]];
const e1OliveL3 = [[15.3,68.3],[17.3,67.7],[21.2,71.3],[17.9,70.1]];
const e1OliveL4 = [[3.5,77.7],[4.7,77],[5,78.1],[3.7,78.2]];
const e1GreenHole = [[35,72],[37.1,71.6],[38.9,75],[36.8,74.4]];
const e1GreenTopSpot = [[13.6,44.2],[15.4,43.2],[21.5,44.8],[22.4,46.9],[17.9,45.4]];
const e1BlueB1 = [[14.5,52.4],[16,51.8],[19.7,53.3],[20.9,55.2],[17.2,54.3]];
const e1BlueB2 = [[13.5,63.1],[14.8,62.2],[19.7,64],[23.5,67.7],[22.7,68.4],[17.9,65.5]];
const e1BlueB3 = [[10,72.5],[11.2,71],[15.4,72],[20.3,74.7],[20,75.6],[14.2,74.7]];
const e1BlueB4 = [[26.5,73.8],[27.3,73],[28.2,74.4],[27.3,75.1]];
const e1BlueB5 = [[6.9,80.2],[28.8,80.2],[31,84.7],[31.6,90.8],[30.7,93.9],[25.8,95],[24,93.3],[22.1,90.5],[16.6,91.1],[11.8,89.3],[6.6,88.7],[6.3,85.3]];
const e1OliveCorner = [[1.4,92.4],[4.4,95],[1.1,95]];

// England and Wales, right panel
const e2Olive = [[0,0],[5.6,0.2],[22,1.1],[33,2.5],[38,4],[42,7],[47,10],[53,10],[54,17],[54,24],[57,33],[63,36.5],[72,36],[78,36],[80.1,35.6],[80.1,39.2],[80.7,39.5],[95,42.3],[95,44.7],[84.7,46.5],[95,49.5],[95,55.6],[82,58],[95,60.1],[95,66.8],[91.6,67.7],[95,69.2],[95,71],[79.5,71],[79.5,79.5],[38.5,79.5],[38.5,70],[36,62],[34,55],[33,46],[30,38],[27,33],[22,29.5],[8,30],[1,27],[0,5]];
const e2RibbonA = [[63.1,35.6],[68.6,39.2],[70.4,42.9],[76.5,49.8],[71.6,47.7],[68,43.5],[64.4,38.6]];
const e2RibbonB = [[72.2,35.6],[77.7,35.6],[77.7,41.4],[74.1,39.2]];
const e2GreenIsland = [[71,40.8],[72.8,40.8],[77.7,46.5],[73.5,44.1]];
const e2WhiteMain = [[60.2,0.2],[62,4.7],[67.5,0.2],[95,0.2],[95,38.4],[85.6,32.9],[82.4,24.7],[82.9,19.3],[83.8,13.8],[76.5,8.4],[73.8,12],[72,21.1],[70.5,27.5],[67.8,24.7],[65.6,13.8],[60.2,8.4],[55.6,4.7],[57.5,0.2]];
const e2OrangeHole = [[84,42],[90,42],[95,43.5],[95,41],[88,39]];
const e2WhiteB1 = [[57.5,19.3],[60.7,17.5],[61.6,22],[58.4,23.8]];
const e2WhiteB2 = [[77.5,19.3],[80.2,18.4],[79.5,22],[77.5,24.7]];
const e2WhiteB3 = [[57.5,10.2],[60.5,9.3],[61,13.8],[58,14.7]];
const e2OliveS1 = [[62.4,21.1],[64.7,20.2],[67.5,28.4],[65.6,33.8],[62.9,28.4]];
const e2OliveS2 = [[72.9,30.2],[75.6,27.5],[78.4,35.6],[74.7,34.7]];
const e2GreenU = [[0,0],[5.6,1.1],[22,3.8],[33.8,6.5],[39.3,12],[45.6,19.3],[48.4,26.5],[52.9,33.8],[63.1,35.6],[66.8,38.6],[69.8,43.5],[72.8,47.1],[77.1,50.8],[79.5,50.2],[79.5,79.5],[77.1,78.9],[72.8,78],[69.8,74.4],[64.4,67.7],[59.5,62.9],[53.5,57.4],[47.4,52],[41.9,47.1],[38.3,45.9],[33,36.8],[29.9,31.4],[22.6,28],[6.2,26.5],[3,22],[0.6,10]];
const e2OliveStripe = [[52.2,37.4],[56.5,37.7],[61.3,41],[64.4,45],[68.6,47.7],[72.2,50.1],[76.5,56.2],[79.2,59.5],[79.2,64.7],[77.1,62.9],[74.7,61],[68.6,56.2],[63.8,52],[59.5,47.1],[55.9,42.9]];
const e2OrangeSpot = [[56.5,40.8],[58,40.8],[59.5,43.8],[58,43.5]];
const e2OrangeS4 = [[60.4,45.3],[61.9,45.9],[65,48.3],[68.6,50.8],[72.2,55.6],[75.9,58],[78,61],[77.7,62],[72.8,58.9],[69.2,55.6],[64.4,50.8],[61.3,47.7]];
const e2WhiteS = [[68.9,52.9],[70.4,54.4],[72.2,56.8],[74.7,58.6],[72.8,58],[70.4,56.5]];
const e2BlueSpot = [[71.9,51],[73.5,51],[76,54.7],[74,54.4]];
const e2BarA = [[79.5,50.1],[86.8,51.4],[91.9,52.9],[86.8,54.4],[79.8,54.9]];
const e2BarB = [[79.6,61.4],[86.8,61.7],[95,61.7],[95,65.3],[86.8,65],[79.8,65.6]];
const e2BarC = [[79.5,70.5],[86.8,70.8],[95,70.8],[95,85],[79.5,85]];
const e2OliveSideR = [[93.1,77.7],[95,76.2],[95,79.5]];
const e2OliveV = [[40.6,79.5],[59.8,79.5],[60,84.1],[61.8,95],[40.7,95],[40.4,83.5]];
const e2PeakA = [[45.1,95],[47.9,86.5],[50.3,95]];
const e2PeakB = [[56.4,95],[58,88.6],[60,95]];
const e2GreenV1 = [[42.5,79.7],[46.2,79.7],[45.6,82.3],[46.2,84.1],[43.8,84.6],[42.1,83.8],[42.7,81.7]];
const e2GreenV2 = [[49.5,79.5],[56.7,79.5],[56.5,83.5],[55,92],[53.1,93.2],[51.6,92],[50.4,84.1],[49.3,82.3]];
const e2GreenV3 = [[59.8,79.5],[76.5,78.6],[79.5,75],[80.1,90.8],[83.8,91.2],[85,95],[61.8,95],[60,84.1]];
const e2PeakC = [[65.3,95],[68,83.8],[68.9,84.1],[71,95]];
const e2PeakD = [[75.9,95],[78,92.3],[80,95]];
const e2Blue = [[0,0],[4.7,2.9],[12.9,5.1],[22,7.5],[28.4,9.3],[29.8,14.7],[34.2,14.7],[38.4,19.3],[42.9,23.8],[45.3,26.5],[46.2,32.6],[48,35.6],[52.8,41.4],[56.5,45],[62.5,49.8],[69.2,55.6],[75.9,61],[76.8,66.2],[79.5,72.3],[80.1,72.3],[85,71.7],[90.7,72.3],[91,74.4],[87.7,77.4],[91,82.3],[95,85],[95,95],[85,95],[83.8,91.2],[80.1,90.8],[78,85],[75.3,91],[72.8,91],[71.5,85.3],[72,79.5],[76.5,78.6],[68.6,72],[62,65.9],[55.9,59.8],[49.2,53.8],[43.8,48.3],[38.3,42.3],[34.7,37.4],[29.9,32.6],[22.6,28.3],[15,27],[9,24],[6,17],[5,13],[1.6,10.2],[1.3,1.1]];
const e2GreenSpotB = [[77.1,83.8],[78.2,82.3],[79,83.8],[78,84.7]];
const e2GreenMid = [[44.7,38.9],[47.4,39.2],[50.4,43.5],[55.9,46.5],[60.1,49.8],[64.4,54.4],[68.6,59.2],[72.8,63.5],[76.5,66.2],[79.5,66.5],[79.5,72.3],[78.9,75.6],[77.7,74.4],[72.2,69.5],[66.2,64.1],[60.7,58],[55.3,52.6],[49.8,46.5],[46.2,42.3]];
const e2OliveMid = [[51.6,46.8],[53.5,46.8],[58.9,50.8],[63.8,55],[69.2,61.1],[74.7,65.9],[77.7,69.5],[77.7,72.3],[72.8,70.1],[68.6,66.5],[63.8,61.7],[58.3,55.6],[52.8,49.5]];
const e2OrangeMid = [[55.9,50.1],[57.7,50.4],[62.5,55.6],[67.4,60.4],[72.2,64.7],[75.9,68.6],[75.9,70],[71,67.1],[66.8,63.5],[63.1,59.8],[59.5,55],[56.5,52.6]];
const e2WhiteMid = [[59.8,54.7],[61.3,55],[64.4,58],[67.4,61],[69.2,63.8],[71.9,66.5],[69.8,65.3],[66.8,62.3],[64.4,59.8],[61.3,57.4]];
const e2OrangeWedge = [[1,28.5],[7.4,29.6],[22.6,29.6],[28.1,31.5],[30.5,36.8],[34.1,44.7],[33.8,50],[37,52],[39.6,54.4],[35,54.7],[37,57.4],[42.3,57.4],[44,60],[39.5,64],[34.1,64.7],[37.8,67.7],[42,70],[47,73],[50,76],[52,78],[50,79.5],[0,79.5],[0,30]];
const e2OliveSouth = [[37.8,67.7],[40.2,67.7],[45,70.7],[49.3,75],[51.1,78],[46.2,78.6],[42,73.2]];
const e2GreenSouth = [[40.8,70.7],[42.6,70.7],[45,75],[43.2,74.4]];
const e2OrangeS5 = [[44.4,69.8],[46.8,71.4],[50.4,75.6],[52.5,77.7],[49.8,78],[46.8,74.4]];
const e2OrangeS6 = [[51.6,67.4],[54.7,68.9],[59.5,75],[63.5,78.3],[60.7,78],[55.9,73.8],[52.8,70.1]];
const e2OrangeS7 = [[52.2,57.7],[54.7,59.5],[60.1,64.7],[65,69.5],[69.8,75],[67.4,74.4],[61.9,69.5],[56.5,64.1],[52.8,59.8]];
const e2GreenR1 = [[35.3,45.3],[42,49.2],[46.2,54.4],[51,59.5],[57.1,64.7],[63.1,70.5],[67.4,76.2],[66.8,78.3],[62.5,76.8],[57.1,71.4],[51,65.9],[45,60.4],[41.3,56.2],[38.3,53.2]];
const e2BlueR1 = [[39.2,49.2],[41.3,49.8],[45.6,55],[50.4,59.9],[56.5,65.3],[62.5,70.7],[66.8,76.2],[62.5,74.4],[57.7,70.1],[51.6,64.7],[45.6,59.2],[41.9,55]];
const e2GreenR2 = [[40.7,59.8],[43.1,60.8],[46.8,65.3],[50.4,68.9],[55.3,73.8],[55.6,75.6],[52.2,75.6],[48.6,72],[43.8,67.1],[40.1,62.9]];
const e2BlueR2 = [[41.6,61.4],[42.5,61.4],[46.2,65.9],[49.8,69.5],[54,73.2],[54.7,75],[52.2,74.7],[49.8,71.4],[44.4,66.5]];
const e2White = [[0,28],[0.8,30.1],[7.4,31.7],[22.6,31.3],[27.5,32.6],[28.7,36.8],[32.3,44.1],[33,51.3],[33.5,57.4],[39.6,65.3],[42,77.4],[39,79.2],[39.6,87.1],[41.1,95],[0,95]];
const e2Hatch = [[0,26.5],[0.2,28.9],[0.2,31.3],[4.4,32.3],[22.6,32.3],[25.3,34.1],[26.5,37.1],[30.5,41],[33,50.7],[33,58],[33.2,61],[32,64],[34.7,67.7],[38.4,72.6],[39.4,75.9],[35.3,75],[37.1,78.6],[33.5,79.8],[34.1,83.5],[38,84.7],[39.9,95],[0,95]];
const e2OrangeMain = [[0,34.4],[2,32.6],[6.2,33.8],[22.6,34.1],[24.4,36.5],[29.9,42],[30.5,47.7],[31.1,52],[33.2,58],[33.2,60.4],[30.5,64.1],[33.2,69.5],[32.6,75],[34.4,78.3],[31.7,79.8],[32.6,85.9],[37.1,89.2],[38.4,95],[0,95]];
const e2OliveMain = [[0.8,39.2],[1.7,35.3],[3.8,38.3],[8.1,38.3],[12.3,37.1],[19,38],[23.2,38],[28,40.4],[29.9,42.3],[29.6,45.9],[30.2,52],[29.3,57.4],[29.9,63.5],[31.4,65.3],[32.3,69.5],[31.7,75.6],[33.5,78.3],[30.5,79.2],[31.7,87.1],[31.1,95],[0.2,95],[0,60]];
const e2GreenMain = [[1.7,39.2],[6.2,40.4],[12.9,39.7],[27.5,41.7],[28.7,45.9],[26,47.4],[28,50.7],[29.3,52.6],[26,57.4],[29.3,61],[27.5,68.3],[31.1,70.7],[30.5,76.2],[30.2,79.2],[31.1,95],[6.2,95],[1.4,90.1],[0.8,79.2],[1.1,56.8]];
const e2OliveLobeA = [[2.6,57.4],[3.8,55.6],[8.4,57.4],[5,59.5]];
const e2OliveLobeB = [[2.9,68.3],[3.8,66.5],[7.5,68.6],[5,69.5]];
const e2OliveLobeC = [[14.8,78.3],[16.5,77.1],[18.9,78.5]];
const e2OliveLobeD = [[1.1,76.8],[3.2,78.6],[0.2,79.2]];
const e2BlueB1 = [[7.1,43.8],[8.1,42.6],[12.9,42.3],[16,41.7],[22,43.8],[22.9,45.3],[20.8,46.8],[16.5,45.3],[12.3,45.9]];
const e2BlueB2 = [[5.8,52],[11.7,49.2],[17.8,51.4],[22,52.3],[25,51.7],[26.5,53.5],[19.6,55.9],[11.7,54.7],[7.5,53.8]];
const e2BlueB3 = [[6.5,63.2],[9.3,61.2],[11.8,62.3],[9.9,64.7]];
const e2BlueB4 = [[13,62.9],[15,61.5],[18.4,62.9],[20.8,65.3],[17.8,65.9],[14.1,64.7]];
const e2BlueB5 = [[6.5,73.5],[8.7,71.8],[10.3,73.2],[7.5,74.7]];
const e2BlueB6 = [[24.9,73.8],[26.2,72.6],[29,74.1],[27.5,75.5]];
const e2BlueB7 = [[4.1,79.8],[28.7,79.5],[29.6,87.1],[29.3,92.6],[27.5,94.1],[24.4,90.7],[20.8,85.3],[18.4,86.8],[12.9,87.1],[8.4,89.8],[6,87.7],[4.1,83.8]];
const e2OliveCorner = [[1.4,90.7],[6.2,95],[0.2,95]];
const e2HatchA = [[68.4,1.1],[70.7,0.7],[72,3.8],[70.2,5.1]];
const e2HatchB = [[68.4,11.1],[69.8,9.8],[70.7,12.9],[68.9,13.8]];

const panels = [{
  id:'c1', left:74, top:16, size:522, diagonal:89, base:BLUE,
  layers:[
    [GREEN,a1GreenTop],[GREEN,a1GreenLow],[GREEN,a1GreenBlob],[GREEN,a1GreenBar],[GREEN,a1GreenBar2],
    [OLIVE,a1OliveTop],[GREEN,a1GreenP1],[GREEN,a1GreenP2],[OLIVE,a1OliveTri],[ORANGE,a1OrangeO1],[ORANGE,a1OrangeO2],
    [ORANGE,a1OrangeStrip],[ORANGE,a1OrangeCorner],[WHITE,a1WhiteCorner],[ORANGE,a1OrangeBlock],[WHITE,a1WhiteW1],[WHITE,a1WhiteW2],[OLIVE,a1OliveBar],
    [OLIVE,a1OliveLow],[ORANGE,a1OrangeLow],[ORANGE,a1OrangeCol],[WHITE,a1WhiteLow],
    [ORANGE,a1OrangeMain,1],[OLIVE,a1OliveMain,1],[ORANGE,a1OrangeP1,1],[ORANGE,a1OrangeP2,1],[WHITE,a1WhiteP2,1],[ORANGE,a1OrangeP3,1],[GREEN,a1GreenSpot,1],
    [GREEN,a1GreenMain,1],[OLIVE,a1OliveS1,1],[OLIVE,a1OliveS2,1],[OLIVE,a1OliveSpot,1],[GREEN,a1GreenSpot2,1],
    [BLUE,a1BlueB1,1],[BLUE,a1BlueB2,1],[BLUE,a1BlueB3,1],[BLUE,a1BlueB4,1],[BLUE,a1BlueB5,1],
    [HATCH,a1Hatch],[WHITE,a1WhiteHole],[HATCH,a1HatchW1]
  ]
},{
  id:'c2', left:669.5, top:16, size:514.6, diagonal:95, base:BLUE,
  layers:[
    [GREEN,a2Green],[GREEN,a2GreenB1],[GREEN,a2GreenB2],[GREEN,a2GreenB3],[GREEN,a2GreenBar],[GREEN,a2GreenSliver],[GREEN,a2GreenLow],[BLUE,a2BlueSpot],
    [OLIVE,a2OliveTop],[GREEN,a2GreenHole],[OLIVE,a2OliveIsland],[GREEN,a2GreenStrips],[ORANGE,a2OrangeTop],[ORANGE,a2OrangeO1],
    [WHITE,a2WhiteTop1],[WHITE,a2WhiteTop2],[WHITE,a2WhiteBig],[ORANGE,a2OrangeDiamond],
    [OLIVE,a2OliveTower],[ORANGE,a2OrangeT1],[ORANGE,a2OrangeT2],[OLIVE,a2OliveSpike],
    [OLIVE,a2OliveLow],[ORANGE,a2OrangeLeft],[WHITE,a2WhiteLeft],[GREEN,a2GreenLeft],[BLUE,a2BlueLeft],
    [ORANGE,a2OrangeLow],[OLIVE,a2OliveTongue],[WHITE,a2WhiteLow],[ORANGE,a2OrangeDiam],[ORANGE,a2OrangeGap],
    [ORANGE,a2OrangeMain,1],[WHITE,a2WhiteHatched,1],[OLIVE,a2OliveBlob,1],[ORANGE,a2OrangeSpire,1],[OLIVE,a2OliveMain,1],[OLIVE,a2OliveCol,1],[ORANGE,a2OrangeBand,1],
    [GREEN,a2GreenMain,1],[OLIVE,a2OliveLeft,1],[OLIVE,a2OliveTail,1],[OLIVE,a2OliveSide,1],[OLIVE,a2OliveSpot,1],
    [ORANGE,a2OrangeS1,1],[ORANGE,a2OrangeS2,1],[ORANGE,a2OrangeS3,1],[ORANGE,a2OrangeS4,1],[ORANGE,a2OrangeS5,1],
    [BLUE,a2BlueB1,1],[BLUE,a2BlueB2,1],[BLUE,a2BlueB3,1],[BLUE,a2BlueB4,1],[BLUE,a2BlueB5,1],[BLUE,a2BlueB6,1],
    [HATCH,a2Hatch],[WHITE,a2WhiteDiamond,1],[ORANGE,a2OrangeCore],[HATCH,a2HatchSmall],[HATCH,a2HatchTop1],[HATCH,a2HatchTop2],[HATCH,a2HatchTiny]
  ]
},{
  id:'c3', left:75.7, top:583.5, size:519.5, diagonal:95, base:ORANGE,
  layers:[
    [WHITE,e1WhiteBig],[WHITE,e1WhiteS1],[WHITE,e1WhiteS2],[WHITE,e1WhiteS3],[WHITE,e1WhiteS4],[WHITE,e1WhiteS5],
    [OLIVE,e1OliveA],[OLIVE,e1OliveA2],[OLIVE,e1OliveO1],[OLIVE,e1OliveO2],[OLIVE,e1OliveO3],[OLIVE,e1OliveO4],[OLIVE,e1OliveO5],[OLIVE,e1OliveO6],[OLIVE,e1OliveO7],
    [GREEN,e1GreenO2],[GREEN,e1GreenO3],[ORANGE,e1OrangeO8],[OLIVE,e1OliveT1],[OLIVE,e1OliveR],[ORANGE,e1OrangeW1],[ORANGE,e1OrangeW2],
    [GREEN,e1GreenBar1],[GREEN,e1GreenBar2],[GREEN,e1GreenBar3],[OLIVE,e1OliveRs],[GREEN,e1GreenIsland],
    [GREEN,e1GreenA],[OLIVE,e1OliveInner],[GREEN,e1GreenStrip],[OLIVE,e1OliveFinger],[GREEN,e1GreenBand2],[BLUE,e1BlueS1],[BLUE,e1BlueS2],[ORANGE,e1OrangeS1],[WHITE,e1WhiteSliver],
    [BLUE,e1Blue],[GREEN,e1GreenMid],[OLIVE,e1OliveMid],[ORANGE,e1OrangeMid],[WHITE,e1WhiteMid],
    [ORANGE,e1OrangeL1],[WHITE,e1WhiteL1],[WHITE,e1WhiteCap],[GREEN,e1GreenL2],[BLUE,e1BlueR1],
    [ORANGE,e1OrangeL2],[WHITE,e1WhiteL2],[WHITE,e1WhiteL3],[ORANGE,e1OrangeL3],[OLIVE,e1OliveBlob],[GREEN,e1GreenBlob],[WHITE,e1WhiteNotch],[GREEN,e1GreenL3],[BLUE,e1BlueR2],
    [WHITE,e1WhiteStrip],[OLIVE,e1OliveV1],[WHITE,e1WhiteV],[OLIVE,e1OliveV2],[GREEN,e1GreenV],[OLIVE,e1OliveV3],[GREEN,e1GreenBig],[OLIVE,e1OliveV4],[BLUE,e1BlueV],[OLIVE,e1OliveV5],
    [WHITE,e1WhiteBand],[WHITE,e1Hatch],[ORANGE,e1OrangeMain,1],[OLIVE,e1OliveMain,1],
    [ORANGE,e1OrangeB1,1],[ORANGE,e1OrangeB2,1],[ORANGE,e1OrangeB3,1],[ORANGE,e1OrangeB4,1],[ORANGE,e1OrangeB5,1],[ORANGE,e1OrangeB6,1],[ORANGE,e1OrangeB7,1],[ORANGE,e1OrangeB8,1],
    [GREEN,e1GreenMain,1],[OLIVE,e1OliveL1,1],[OLIVE,e1OliveL2,1],[OLIVE,e1OliveL3,1],[OLIVE,e1OliveL4,1],[GREEN,e1GreenHole,1],[GREEN,e1GreenTopSpot,1],
    [BLUE,e1BlueB1,1],[BLUE,e1BlueB2,1],[BLUE,e1BlueB3,1],[BLUE,e1BlueB4,1],[BLUE,e1BlueB5,1],[OLIVE,e1OliveCorner,1],
    [HATCH,e1Hatch],[HATCH,e1HatchCap],[HATCH,e1HatchR1],[HATCH,e1HatchR2],[HATCH,e1HatchR3],[HATCH,e1HatchR4]
  ]
},{
  id:'c4', left:669, top:584, size:522.8, diagonal:95, base:ORANGE,
  layers:[
    [OLIVE,e2Olive],[ORANGE,e2RibbonA],[ORANGE,e2RibbonB],[GREEN,e2GreenIsland],
    [WHITE,e2WhiteMain],[ORANGE,e2OrangeHole],[WHITE,e2WhiteB1],[WHITE,e2WhiteB2],[WHITE,e2WhiteB3],[OLIVE,e2OliveS1],[OLIVE,e2OliveS2],
    [GREEN,e2GreenU],[OLIVE,e2OliveStripe],[ORANGE,e2OrangeSpot],[ORANGE,e2OrangeS4],[WHITE,e2WhiteS],[BLUE,e2BlueSpot],
    [GREEN,e2BarA],[GREEN,e2BarB],[GREEN,e2BarC],[OLIVE,e2OliveSideR],
    [OLIVE,e2OliveV],[ORANGE,e2PeakA],[ORANGE,e2PeakB],[GREEN,e2GreenV1],[GREEN,e2GreenV2],[GREEN,e2GreenV3],[OLIVE,e2PeakC],[OLIVE,e2PeakD],
    [BLUE,e2Blue],[GREEN,e2GreenSpotB],[GREEN,e2GreenMid],[OLIVE,e2OliveMid],[ORANGE,e2OrangeMid],[WHITE,e2WhiteMid],
    [ORANGE,e2OrangeWedge],[OLIVE,e2OliveSouth],[GREEN,e2GreenSouth],[ORANGE,e2OrangeS5],[ORANGE,e2OrangeS6],[ORANGE,e2OrangeS7],
    [GREEN,e2GreenR1],[BLUE,e2BlueR1],[GREEN,e2GreenR2],[BLUE,e2BlueR2],
    [WHITE,e2White],[ORANGE,e2OrangeMain,1],[OLIVE,e2OliveMain,1],[GREEN,e2GreenMain,1],
    [OLIVE,e2OliveLobeA,1],[OLIVE,e2OliveLobeB,1],[OLIVE,e2OliveLobeC,1],[OLIVE,e2OliveLobeD,1],
    [BLUE,e2BlueB1,1],[BLUE,e2BlueB2,1],[BLUE,e2BlueB3,1],[BLUE,e2BlueB4,1],[BLUE,e2BlueB5,1],[BLUE,e2BlueB6,1],[BLUE,e2BlueB7,1],[OLIVE,e2OliveCorner,1],
    [HATCH,e2Hatch],[HATCH,e2HatchA],[HATCH,e2HatchB]
  ]
}];

function makeHatch(ctx,p,padLeft,padTop){
  var cell=40, off=document.createElement('canvas');
  off.width=off.height=cell;
  var g=off.getContext('2d'), period=p.size/95, s=period/cell;
  g.fillStyle='#000';
  g.fillRect(0,0,cell,1.1/s);
  g.fillRect(0,0,1.1/s,cell);
  var pat=ctx.createPattern(off,'repeat');
  pat.setTransform(new DOMMatrix([s,0,0,s,padLeft-0.5,padTop-0.5]));
  return pat;
}

panels.forEach(function(p){
  var padLeft=20, padTop=20, axisW=50, axisH=36;
  var canvas=document.getElementById(p.id);
  var shiftL=p.left-Math.floor(p.left), shiftT=p.top-Math.floor(p.top);
  var w=Math.ceil(p.size+padLeft+axisW+shiftL), h=Math.ceil(p.size+padTop+axisH+shiftT);
  canvas.style.left=(Math.floor(p.left)-padLeft)+'px';
  canvas.style.top=(Math.floor(p.top)-padTop)+'px';
  canvas.style.width=w+'px';
  canvas.style.height=h+'px';
  canvas.width=w;
  canvas.height=h;
  var ctx=canvas.getContext('2d');
  var hatch=makeHatch(ctx,p,padLeft+shiftL,padTop+shiftT);
  var datasets=p.layers.map(function(l){
    var isHatch=l[0]===HATCH;
    return {
      data:l[1].map(function(v){return {x:v[0],y:v[1]};}),
      showLine:true, fill:'shape', tension:0.35, pointRadius:0,
      backgroundColor:isHatch?hatch:l[0],
      borderColor:'#000', borderWidth:(isHatch||l[2])?0.8:0
    };
  });
  datasets.push({
    data:[{x:0,y:0},{x:p.diagonal,y:p.diagonal}],
    showLine:true, fill:false, pointRadius:0, borderColor:'#000', borderWidth:1
  });
  // chart.js paints the first dataset last, so the painter's order is turned round
  datasets.reverse();
  new Chart(canvas,{
    type:'scatter',
    data:{datasets:datasets},
    options:{
      responsive:false, animation:false, devicePixelRatio:1,
      layout:{padding:{left:padLeft+shiftL,top:padTop+shiftT,right:0,bottom:0}},
      plugins:{legend:{display:false},tooltip:{enabled:false}},
      scales:{
        x:{type:'linear',position:'bottom',min:0,max:95,
          afterBuildTicks:function(s){s.ticks=AGE_TICKS.map(function(v){return {value:v};});},
          afterFit:function(s){s.height=axisH;},
          grid:{display:false,drawTicks:true,tickLength:7,tickColor:'#333'},
          border:{display:true,color:'#333'},
          ticks:{autoSkip:false,maxRotation:0,color:'#000',padding:10,font:{family:'Liberation Serif',size:16}}},
        y:{type:'linear',position:'right',reverse:true,min:0,max:95,
          afterBuildTicks:function(s){s.ticks=AGE_TICKS.map(function(v){return {value:v};});},
          afterFit:function(s){s.width=axisW;},
          grid:{display:false,drawTicks:true,tickLength:7,tickColor:'#333'},
          border:{display:true,color:'#333'},
          ticks:{autoSkip:false,color:'#000',padding:9,labelOffset:2,font:{family:'Liberation Serif',size:16}}}
      }
    },
    plugins:[{id:'baseFill',beforeDatasetsDraw:function(c){
      var a=c.chartArea;
      c.ctx.fillStyle=p.base;
      c.ctx.fillRect(a.left,a.top,a.width,a.height);
    }}]
  });
});
</script>
</body>
</html>
